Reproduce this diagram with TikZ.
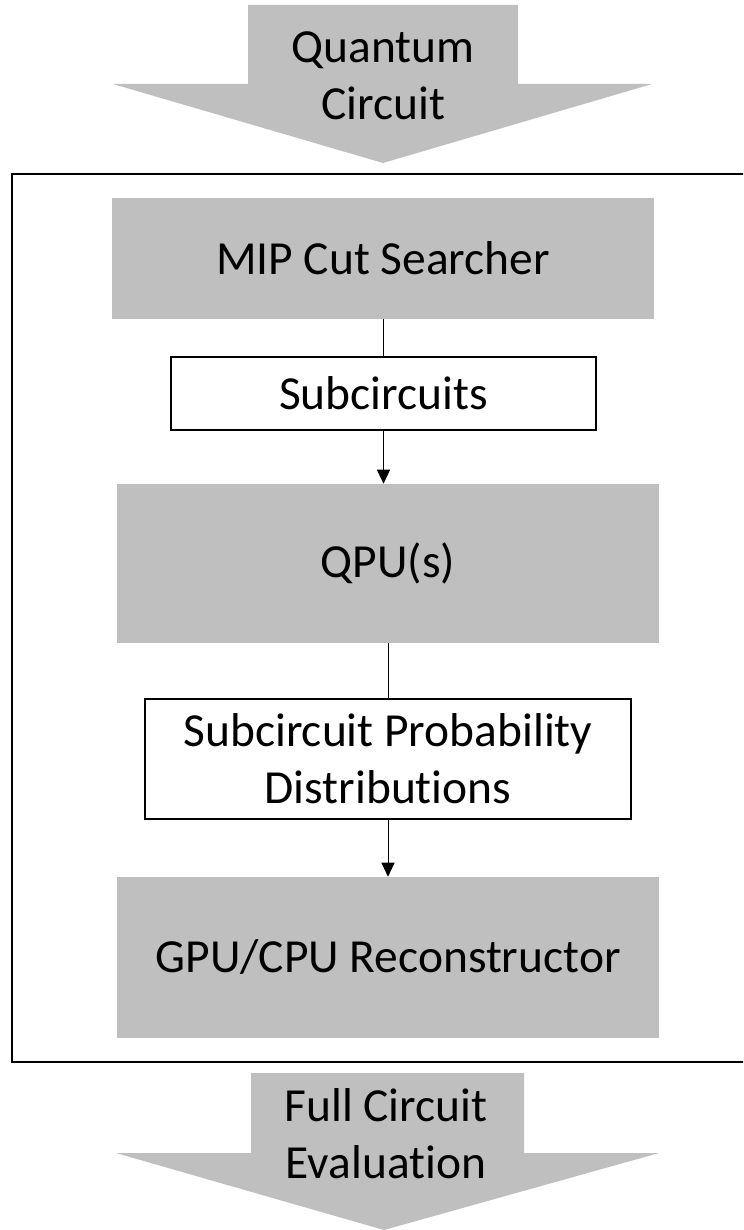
\documentclass[tikz,border=0pt]{standalone}
\usepackage{fontspec}
\setmainfont[Ligatures={NoCommon}]{Carlito}
\usetikzlibrary{arrows.meta}
\definecolor{blockgray}{HTML}{BFBFBF}
\tikzset{
  lbl/.style={font=\fontsize{35.6}{42.75}\selectfont, align=center, inner sep=0pt},
  graybox/.style={fill=blockgray, draw=none, inner sep=0pt, lbl},
  datbox/.style={fill=white, draw=black, line width=1.1pt, inner sep=0pt, lbl},
  link/.style={draw=black, line width=0.75pt},
  flow/.style={link, -{Triangle[width=9.75pt,length=10.5pt]}},
  bigarrow/.style={fill=blockgray, draw=none},
}
\begin{document}
\begin{tikzpicture}[x=0.75pt,y=-0.75pt]
  \useasboundingbox (0,0) rectangle (743,1230);
  \clip (0,0) rectangle (743,1230);

  % input arrow
  \fill[bigarrow] (248,5) -- (518,5) -- (518,84) -- (652,84) -- (383,163)
                  -- (113,84) -- (248,84) -- cycle;
  \node[lbl] (inlbl) at (383,76) {Quantum\\Circuit};

  % frame around the pipeline
  \draw[line width=1.5pt] (11.5,174) rectangle (775,1062);

  % pipeline stages
  \node[graybox, minimum width=406.5pt, minimum height=90.75pt] (mip) at (383,258.5) {MIP Cut Searcher};
  \node[datbox, minimum width=318.75pt, minimum height=54.75pt] (sub) at (383.5,393.5) {Subcircuits};
  \node[graybox, minimum width=406.5pt, minimum height=119.25pt] (qpu) at (388,563.5) {QPU(s)};
  \node[datbox, minimum width=364.5pt, minimum height=90pt] (prob) at (388,759) {Subcircuit Probability\\Distributions};
  \node[graybox, minimum width=406.5pt, minimum height=120.75pt] (gpu) at (388,957.5) {GPU/CPU Reconstructor};

  % connectors
  \draw[link] (mip.south -| sub.north) -- (sub.north);
  \draw[flow] (sub.south) -- (sub.south |- qpu.north);
  \draw[link] (qpu.south) -- (prob.north);
  \draw[flow] (prob.south) -- (gpu.north);

  % output arrow
  \fill[bigarrow] (251,1073) -- (524,1073) -- (524,1153) -- (659,1153) -- (384,1230)
                  -- (116,1153) -- (251,1153) -- cycle;
  \node[lbl] (outlbl) at (386,1134) {Full Circuit\\Evaluation};
\end{tikzpicture}
\end{document}
